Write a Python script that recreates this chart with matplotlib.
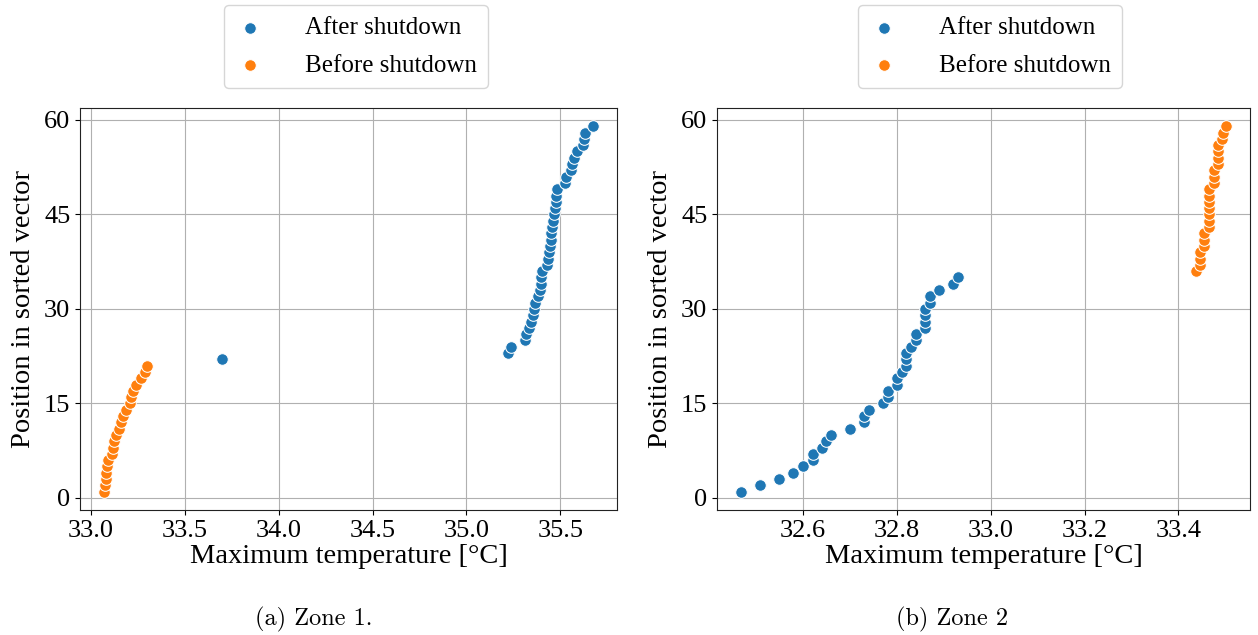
import numpy as np
import matplotlib
matplotlib.use('Agg')
import matplotlib.pyplot as plt

# Zone 1 -- maximum temperature per position in sorted vector
z1_before_pos = list(range(1, 22))
z1_before_temp = [33.071, 33.075, 33.078, 33.082, 33.086, 33.092, 33.110, 33.116,
                  33.121, 33.134, 33.148, 33.160, 33.172, 33.186, 33.205, 33.215,
                  33.225, 33.240, 33.265, 33.285, 33.300]
z1_after_pos = list(range(22, 60))
z1_after_temp = [33.697, 35.221, 35.239, 35.310, 35.319, 35.333, 35.346, 35.354,
                 35.360, 35.363, 35.380, 35.390, 35.395, 35.399, 35.402, 35.430,
                 35.434, 35.440, 35.443, 35.448, 35.452, 35.457, 35.461, 35.466,
                 35.471, 35.475, 35.479, 35.481, 35.525, 35.532, 35.558, 35.562,
                 35.571, 35.589, 35.620, 35.626, 35.629, 35.673]

# Zone 2
z2_after_pos = list(range(1, 36))
z2_after_temp = [32.468, 32.508, 32.548, 32.579, 32.600, 32.620, 32.620, 32.640,
                 32.649, 32.660, 32.700, 32.729, 32.729, 32.740, 32.770, 32.780,
                 32.780, 32.800, 32.800, 32.810, 32.820, 32.820, 32.820, 32.830,
                 32.840, 32.840, 32.860, 32.860, 32.860, 32.860, 32.870, 32.870,
                 32.890, 32.920, 32.930]
z2_before_pos = list(range(36, 60))
z2_before_temp = [33.437, 33.446, 33.446, 33.446, 33.455, 33.455, 33.455, 33.465,
                  33.465, 33.465, 33.465, 33.465, 33.465, 33.465, 33.475, 33.475,
                  33.475, 33.484, 33.484, 33.484, 33.484, 33.492, 33.495, 33.502]

plt.rcParams['font.family'] = ['Liberation Serif', 'DejaVu Serif']

fig = plt.figure(figsize=(12.58, 6.35), dpi=100)
ax1 = fig.add_axes([0.0636, 0.197, 0.427, 0.633])
ax2 = fig.add_axes([0.570, 0.197, 0.424, 0.633])

panels = [
    (ax1, z1_after_temp, z1_after_pos, z1_before_temp, z1_before_pos, 0.514),
    (ax2, z2_after_temp, z2_after_pos, z2_before_temp, z2_before_pos, 0.512),
]

for ax, at, ap, bt, bp, lx in panels:
    ax.set_axisbelow(True)
    ax.grid(True, color='#b0b0b0', linewidth=0.8)
    ax.scatter(at, ap, s=70, color='#1f77b4', edgecolor='white', linewidth=0.75,
               label='After shutdown', zorder=3)
    ax.scatter(bt, bp, s=70, color='#ff7f0e', edgecolor='white', linewidth=0.75,
               label='Before shutdown', zorder=3)
    ax.set_yticks([0, 15, 30, 45, 60])
    ax.tick_params(labelsize=19)
    for sp in ax.spines.values():
        sp.set_color('#222222')
    ax.set_xlabel('Maximum temperature [°C]', fontsize=20.5, labelpad=2)
    ax.set_ylabel('Position in sorted vector', fontsize=20.5, labelpad=6)
    ax.legend(loc='lower center', bbox_to_anchor=(lx, 1.05), borderaxespad=0,
              fontsize=18, markerscale=1.0, handlelength=1.2, handletextpad=1.6,
              borderpad=0.45, labelspacing=0.6)

ax1.set_xticks([33.0, 33.5, 34.0, 34.5, 35.0, 35.5])
ax2.set_xticks([32.6, 32.8, 33.0, 33.2, 33.4])

fig.text(0.249, 0.024, '(a) Zone 1.', ha='center', va='center',
         fontsize=17.5, family='cmr10')
fig.text(0.757, 0.024, '(b) Zone 2', ha='center', va='center',
         fontsize=17.5, family='cmr10')

fig.savefig('out.png', dpi=100)
